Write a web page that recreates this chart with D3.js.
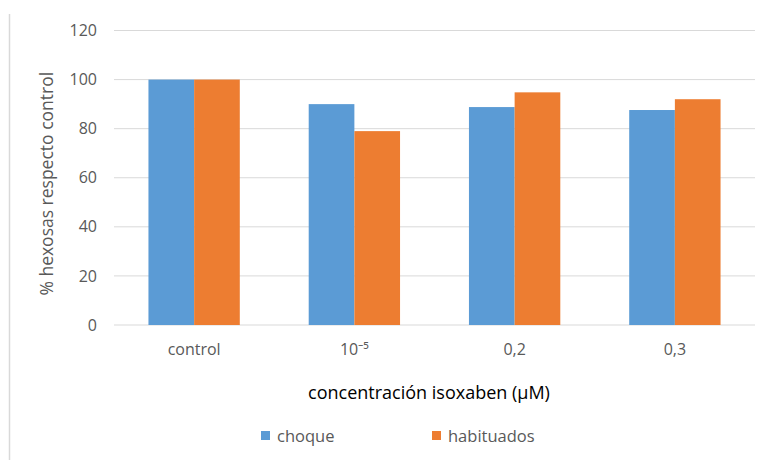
<!DOCTYPE html>
<html>
<head>
<meta charset="utf-8">
<script src="https://cdn.jsdelivr.net/npm/d3@7"></script>
<style>
  body { margin: 0; background: #fff; }
  text { font-family: 'Open Sans', 'Noto Sans', sans-serif; }
</style>
</head>
<body>
<div id="chart"></div>
<script>
// Data.
const categories = ['control', '10⁻⁵', '0,2', '0,3'];
const choque = [100, 90, 88.8, 87.6];
const habituados = [100, 79, 94.8, 92];
const seriesNames = ['choque', 'habituados'];
const seriesColors = ['#5b9bd5', '#ed7d31'];
const yTicks = [0, 20, 40, 60, 80, 100, 120];

// Svg Constants.
const width = 763, height = 461;
const plot = { left: 114, right: 755, top: 30.5, bottom: 325 };

const svg = d3.select('#chart')
    .append('svg')
    .attr('width', width)
    .attr('height', height);

// Faint frame line on the left.
svg.append('line')
    .attr('x1', 9.5).attr('x2', 9.5)
    .attr('y1', 14).attr('y2', 460)
    .attr('stroke', '#d9d9d9')
    .attr('stroke-width', 1.5);

// Scales.
const x = d3.scaleBand()
    .domain(categories)
    .range([plot.left, plot.right])
    .paddingInner(0.43)
    .paddingOuter(0.215);
const xSub = d3.scaleBand()
    .domain(seriesNames)
    .range([0, x.bandwidth()]);
const y = d3.scaleLinear()
    .domain([0, 120])
    .range([plot.bottom, plot.top]);

// Gridlines.
svg.append('g')
    .selectAll('line')
    .data(yTicks)
    .join('line')
        .attr('x1', plot.left)
        .attr('x2', plot.right)
        .attr('y1', d => y(d))
        .attr('y2', d => y(d))
        .attr('stroke', '#d9d9d9')
        .attr('stroke-width', 1);

// Y axis (labels only).
const yAxis = svg.append('g')
    .attr('transform', `translate(${plot.left},0)`)
    .call(d3.axisLeft(y).tickValues(yTicks).tickSize(0).tickPadding(17));
yAxis.select('.domain').remove();
yAxis.selectAll('text')
    .attr('fill', '#595959')
    .attr('font-size', '16px')
    .style('font-family', "'Open Sans', sans-serif");

// Bars.
const rows = categories.map((c, i) => ({ cat: c, values: [choque[i], habituados[i]] }));
svg.append('g')
    .selectAll('g')
    .data(rows)
    .join('g')
        .attr('transform', d => `translate(${x(d.cat)},0)`)
    .selectAll('rect')
    .data(d => d.values.map((v, j) => ({ name: seriesNames[j], value: v, color: seriesColors[j] })))
    .join('rect')
        .attr('x', d => xSub(d.name))
        .attr('y', d => y(d.value))
        .attr('width', xSub.bandwidth())
        .attr('height', d => y(0) - y(d.value))
        .attr('fill', d => d.color);

// X axis labels.
const xAxis = svg.append('g')
    .attr('transform', `translate(0,${plot.bottom})`)
    .call(d3.axisBottom(x).tickSize(0).tickPadding(19));
xAxis.select('.domain').remove();
xAxis.selectAll('text')
    .attr('fill', '#595959')
    .attr('font-size', '16px')
    .style('font-family', "'Open Sans', sans-serif");

// Axis titles.
svg.append('text')
    .attr('transform', `translate(53,${(plot.top + plot.bottom) / 2 + 6}) rotate(-90)`)
    .attr('text-anchor', 'middle')
    .attr('fill', '#595959')
    .attr('font-size', '17.5px')
    .text('% hexosas respecto control');

svg.append('text')
    .attr('x', 429)
    .attr('y', 399)
    .attr('text-anchor', 'middle')
    .attr('fill', '#000')
    .attr('font-size', '18px')
    .text('concentración isoxaben (µM)');

// Legend.
const legendX = [261, 432];
const legend = svg.append('g')
    .selectAll('g')
    .data(seriesNames)
    .join('g')
        .attr('transform', (d, i) => `translate(${legendX[i]},431)`);
legend.append('rect')
    .attr('width', 9)
    .attr('height', 9)
    .attr('fill', (d, i) => seriesColors[i]);
legend.append('text')
    .attr('x', 16)
    .attr('y', 11)
    .attr('fill', '#595959')
    .attr('font-size', '16.5px')
    .text(d => d);
</script>
</body>
</html>
